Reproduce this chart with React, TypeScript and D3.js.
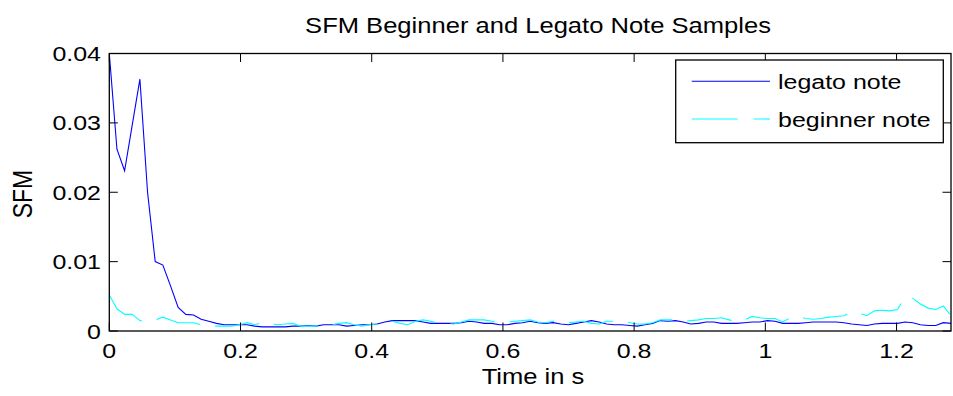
import React from "react";
import * as d3 from "d3";

// Frame hop in seconds (one SFM value per analysis frame)
const HOP = 0.011664;

const legatoNote: number[] = [
  0.0400, 0.0262, 0.0231, 0.0297, 0.0363, 0.0200, 0.0100, 0.0095, 0.0065, 0.0034,
  0.0024, 0.0023, 0.0017, 0.0014, 0.0011, 0.0009, 0.0009, 0.0009, 0.0009, 0.0007,
  0.0006, 0.0006, 0.0006, 0.0006, 0.0007, 0.0007, 0.0008, 0.0007, 0.0009, 0.0009,
  0.0009, 0.0007, 0.0008, 0.0009, 0.0009, 0.0010, 0.0013, 0.0015, 0.0015, 0.0015,
  0.0015, 0.0013, 0.0011, 0.0011, 0.0011, 0.0011, 0.0012, 0.0014, 0.0013, 0.0011,
  0.0011, 0.0009, 0.0009, 0.0011, 0.0012, 0.0014, 0.0012, 0.0011, 0.0012, 0.0010,
  0.0009, 0.0011, 0.0013, 0.0015, 0.0013, 0.0010, 0.0009, 0.0009, 0.0008, 0.0007,
  0.0009, 0.0011, 0.0015, 0.0014, 0.0015, 0.0013, 0.0010, 0.0011, 0.0013, 0.0013,
  0.0011, 0.0011, 0.0011, 0.0012, 0.0013, 0.0013, 0.0015, 0.0014, 0.0011, 0.0011,
  0.0011, 0.0012, 0.0013, 0.0013, 0.0013, 0.0013, 0.0012, 0.0010, 0.0009, 0.0008,
  0.0010, 0.0011, 0.0011, 0.0011, 0.0013, 0.0012, 0.0009, 0.0008, 0.0008, 0.0012,
  0.0011,
];

const beginnerNote: number[] = [
  0.0052, 0.0032, 0.0024, 0.0024, 0.0015, 0.0013, 0.0016, 0.0020, 0.0016, 0.0012,
  0.0012, 0.0012, 0.0009, 0.0008, 0.0007, 0.0007, 0.0007, 0.0009, 0.0012, 0.0009,
  0.0012, 0.0010, 0.0009, 0.0010, 0.0011, 0.0007, 0.0007, 0.0007, 0.0009, 0.0009,
  0.0011, 0.0012, 0.0009, 0.0007, 0.0009, 0.0010, 0.0012, 0.0014, 0.0011, 0.0009,
  0.0014, 0.0016, 0.0014, 0.0011, 0.0011, 0.0010, 0.0013, 0.0016, 0.0016, 0.0016,
  0.0014, 0.0012, 0.0013, 0.0014, 0.0015, 0.0016, 0.0013, 0.0012, 0.0014, 0.0013,
  0.0012, 0.0013, 0.0014, 0.0011, 0.0010, 0.0014, 0.0014, 0.0014, 0.0012, 0.0010,
  0.0010, 0.0012, 0.0016, 0.0016, 0.0016, 0.0014, 0.0015, 0.0016, 0.0018, 0.0018,
  0.0019, 0.0016, 0.0013, 0.0016, 0.0021, 0.0019, 0.0018, 0.0018, 0.0013, 0.0019,
  0.0021, 0.0018, 0.0017, 0.0018, 0.0020, 0.0021, 0.0022, 0.0028, 0.0026, 0.0022,
  0.0029, 0.0030, 0.0029, 0.0031, 0.0049, 0.0047, 0.0039, 0.0033, 0.0031, 0.0036,
  0.0022,
];

const xTicks: number[] = [0, 0.2, 0.4, 0.6, 0.8, 1.0, 1.2];
const xTickLabels: string[] = ["0", "0.2", "0.4", "0.6", "0.8", "1", "1.2"];
const yTicks: number[] = [0, 0.01, 0.02, 0.03, 0.04];
const yTickLabels: string[] = ["0", "0.01", "0.02", "0.03", "0.04"];
const seriesNames: string[] = ["legato note", "beginner note"];

const X_MAX = 1.283;
const Y_MAX = 0.04;

const W = 953;
const H = 396;
const L = 109.3, R = 951, T = 53.5, B = 331;
const SX = 1.2; // horizontal stretch of text glyphs
const FONT = "'Liberation Sans', Arial, Helvetica, sans-serif";

function Txt(props: { x: number; y: number; size: number; anchor?: string; rotate?: boolean; children: string }) {
  const { x, y, size, anchor = "start", rotate = false, children } = props;
  const tf = `translate(${x},${y}) scale(${SX},1)` + (rotate ? " rotate(-90)" : "");
  return (
    <text transform={tf} textAnchor={anchor} fontSize={size} fontFamily={FONT} fill="#000">
      {children}
    </text>
  );
}

export default function App() {
  const x = d3.scaleLinear().domain([0, X_MAX]).range([L, R]);
  const y = d3.scaleLinear().domain([0, Y_MAX]).range([B, T]);
  const line = d3
    .line<number>()
    .x((_, i) => x(i * HOP))
    .y((d) => y(d));

  const tickLen = 8.5;

  return (
    <svg
      width={W}
      height={H}
      style={{ position: "absolute", left: 0, top: 0, background: "#fff" }}
      xmlns="http://www.w3.org/2000/svg"
    >
      <rect x={0} y={0} width={W} height={H} fill="#fff" />
      <defs>
        <clipPath id="plotclip">
          <rect x={L} y={T} width={R - L} height={B - T} />
        </clipPath>
      </defs>

      {/* data */}
      <g clipPath="url(#plotclip)" fill="none">
        <path d={line(legatoNote) || ""} stroke="#0000ff" strokeWidth={1.1} />
        <path d={line(beginnerNote) || ""} stroke="#00ffff" strokeWidth={1.1} strokeDasharray="45 15" />
      </g>

      {/* axes box */}
      <rect x={L} y={T} width={R - L} height={B - T} fill="none" stroke="#000" strokeWidth={1.3} />

      {/* x ticks */}
      {xTicks.map((t, i) => (
        <g key={"xt" + i}>
          <line x1={x(t)} x2={x(t)} y1={B} y2={B - tickLen} stroke="#000" strokeWidth={1} />
          <line x1={x(t)} x2={x(t)} y1={T} y2={T + tickLen} stroke="#000" strokeWidth={1} />
          <Txt x={x(t)} y={358} size={20.8} anchor="middle">{xTickLabels[i]}</Txt>
        </g>
      ))}

      {/* y ticks */}
      {yTicks.map((t, i) => (
        <g key={"yt" + i}>
          <line x1={L} x2={L + tickLen} y1={y(t)} y2={y(t)} stroke="#000" strokeWidth={1} />
          <line x1={R} x2={R - tickLen} y1={y(t)} y2={y(t)} stroke="#000" strokeWidth={1} />
          <Txt x={101} y={y(t) + 7.5} size={20.8} anchor="end">{yTickLabels[i]}</Txt>
        </g>
      ))}

      {/* title & labels */}
      <Txt x={538} y={33} size={21.3} anchor="middle">SFM Beginner and Legato Note Samples</Txt>
      <Txt x={533} y={384} size={21.3} anchor="middle">Time in s</Txt>
      <Txt x={32} y={194} size={23} anchor="middle" rotate>SFM</Txt>

      {/* legend */}
      <g>
        <rect x={675.7} y={60} width={943.3 - 675.7} height={142.7 - 60} fill="#fff" stroke="#000" strokeWidth={1.3} />
        <line x1={691.7} x2={770} y1={81.3} y2={81.3} stroke="#0000ff" strokeWidth={1.1} />
        <line x1={691.7} x2={770} y1={119} y2={119} stroke="#00ffff" strokeWidth={1.1} strokeDasharray="46 16" />
        <Txt x={778} y={88.5} size={20.8}>{seriesNames[0]}</Txt>
        <Txt x={778} y={126.5} size={20.8}>{seriesNames[1]}</Txt>
      </g>
    </svg>
  );
}
